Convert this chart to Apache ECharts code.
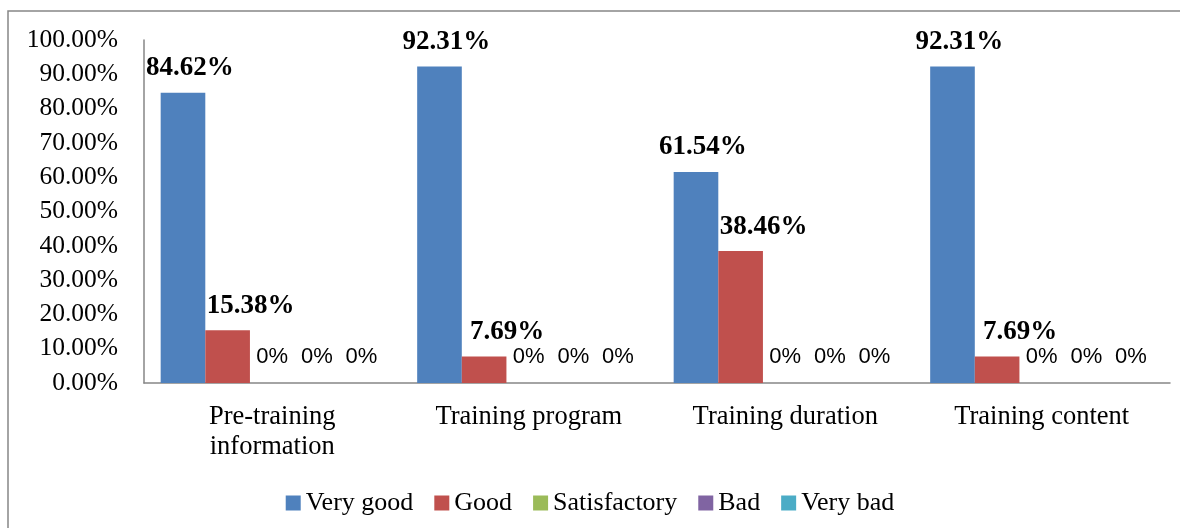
<!DOCTYPE html>
<html>
<head>
<meta charset="utf-8">
<script src="https://cdn.jsdelivr.net/npm/echarts@6/dist/echarts.min.js"></script>
<style>
html, body { margin: 0; padding: 0; background: #fff; }
#chart { width: 1180px; height: 528px; }
</style>
</head>
<body>
<div id="chart"></div>
<script>
var categories = ['Pre-training\ninformation', 'Training program', 'Training duration', 'Training content']
var veryGood = [84.62, 92.31, 61.54, 92.31]
var good = [15.38, 7.69, 38.46, 7.69]
var satisfactory = [0, 0, 0, 0]
var bad = [0, 0, 0, 0]
var veryBad = [0, 0, 0, 0]

var serif = 'Liberation Serif'
var sans = 'Liberation Sans'

function makeSeries (name, values, color, shiftX) {
  return {
    name: name,
    type: 'bar',
    itemStyle: { color: color },
    barCategoryGap: '13%',
    barGap: '0%',
    data: values.map(function (v) {
      var zero = v === 0
      return {
        value: v,
        label: {
          show: true,
          position: 'top',
          offset: zero ? [0, -10] : [shiftX, -6],
          formatter: zero ? '0%' : v.toFixed(2) + '%',
          fontFamily: zero ? sans : serif,
          fontWeight: zero ? 'normal' : 'bold',
          fontSize: zero ? 22 : 27,
          color: '#000'
        }
      }
    })
  }
}

var chart = echarts.init(document.getElementById('chart'))
chart.setOption({
  animation: false,
  graphic: [{
    type: 'rect',
    shape: { x: 8, y: 11, width: 1190, height: 540 },
    style: { fill: 'none', stroke: '#868686', lineWidth: 1.5 }
  }],
  grid: { left: 144, right: 10, top: 40, bottom: 145 },
  legend: {
    bottom: 7,
    left: 'center',
    itemWidth: 15,
    itemHeight: 15,
    itemGap: 21,
    icon: 'rect',
    textStyle: { fontFamily: serif, fontSize: 26, color: '#000' },
    data: ['Very good', 'Good', 'Satisfactory', 'Bad', 'Very bad']
  },
  xAxis: {
    type: 'category',
    data: categories,
    axisLine: { lineStyle: { color: '#868686', width: 1.5 } },
    axisTick: { show: false },
    axisLabel: { margin: 19, fontFamily: serif, fontSize: 26.5, color: '#000', lineHeight: 30, interval: 0 }
  },
  yAxis: {
    type: 'value',
    min: 0,
    max: 100,
    interval: 10,
    splitLine: { show: false },
    axisLine: { show: true, lineStyle: { color: '#868686', width: 1.5 } },
    axisTick: { show: false },
    axisLabel: {
      margin: 26,
      fontFamily: serif,
      fontSize: 25.5,
      color: '#000',
      formatter: function (v) { return v.toFixed(2) + '%' }
    }
  },
  series: [
    makeSeries('Very good', veryGood, '#4F81BD', 7),
    makeSeries('Good', good, '#C0504D', 23),
    makeSeries('Satisfactory', satisfactory, '#9BBB59', 0),
    makeSeries('Bad', bad, '#8064A2', 0),
    makeSeries('Very bad', veryBad, '#4BACC6', 0)
  ]
})
</script>
</body>
</html>
